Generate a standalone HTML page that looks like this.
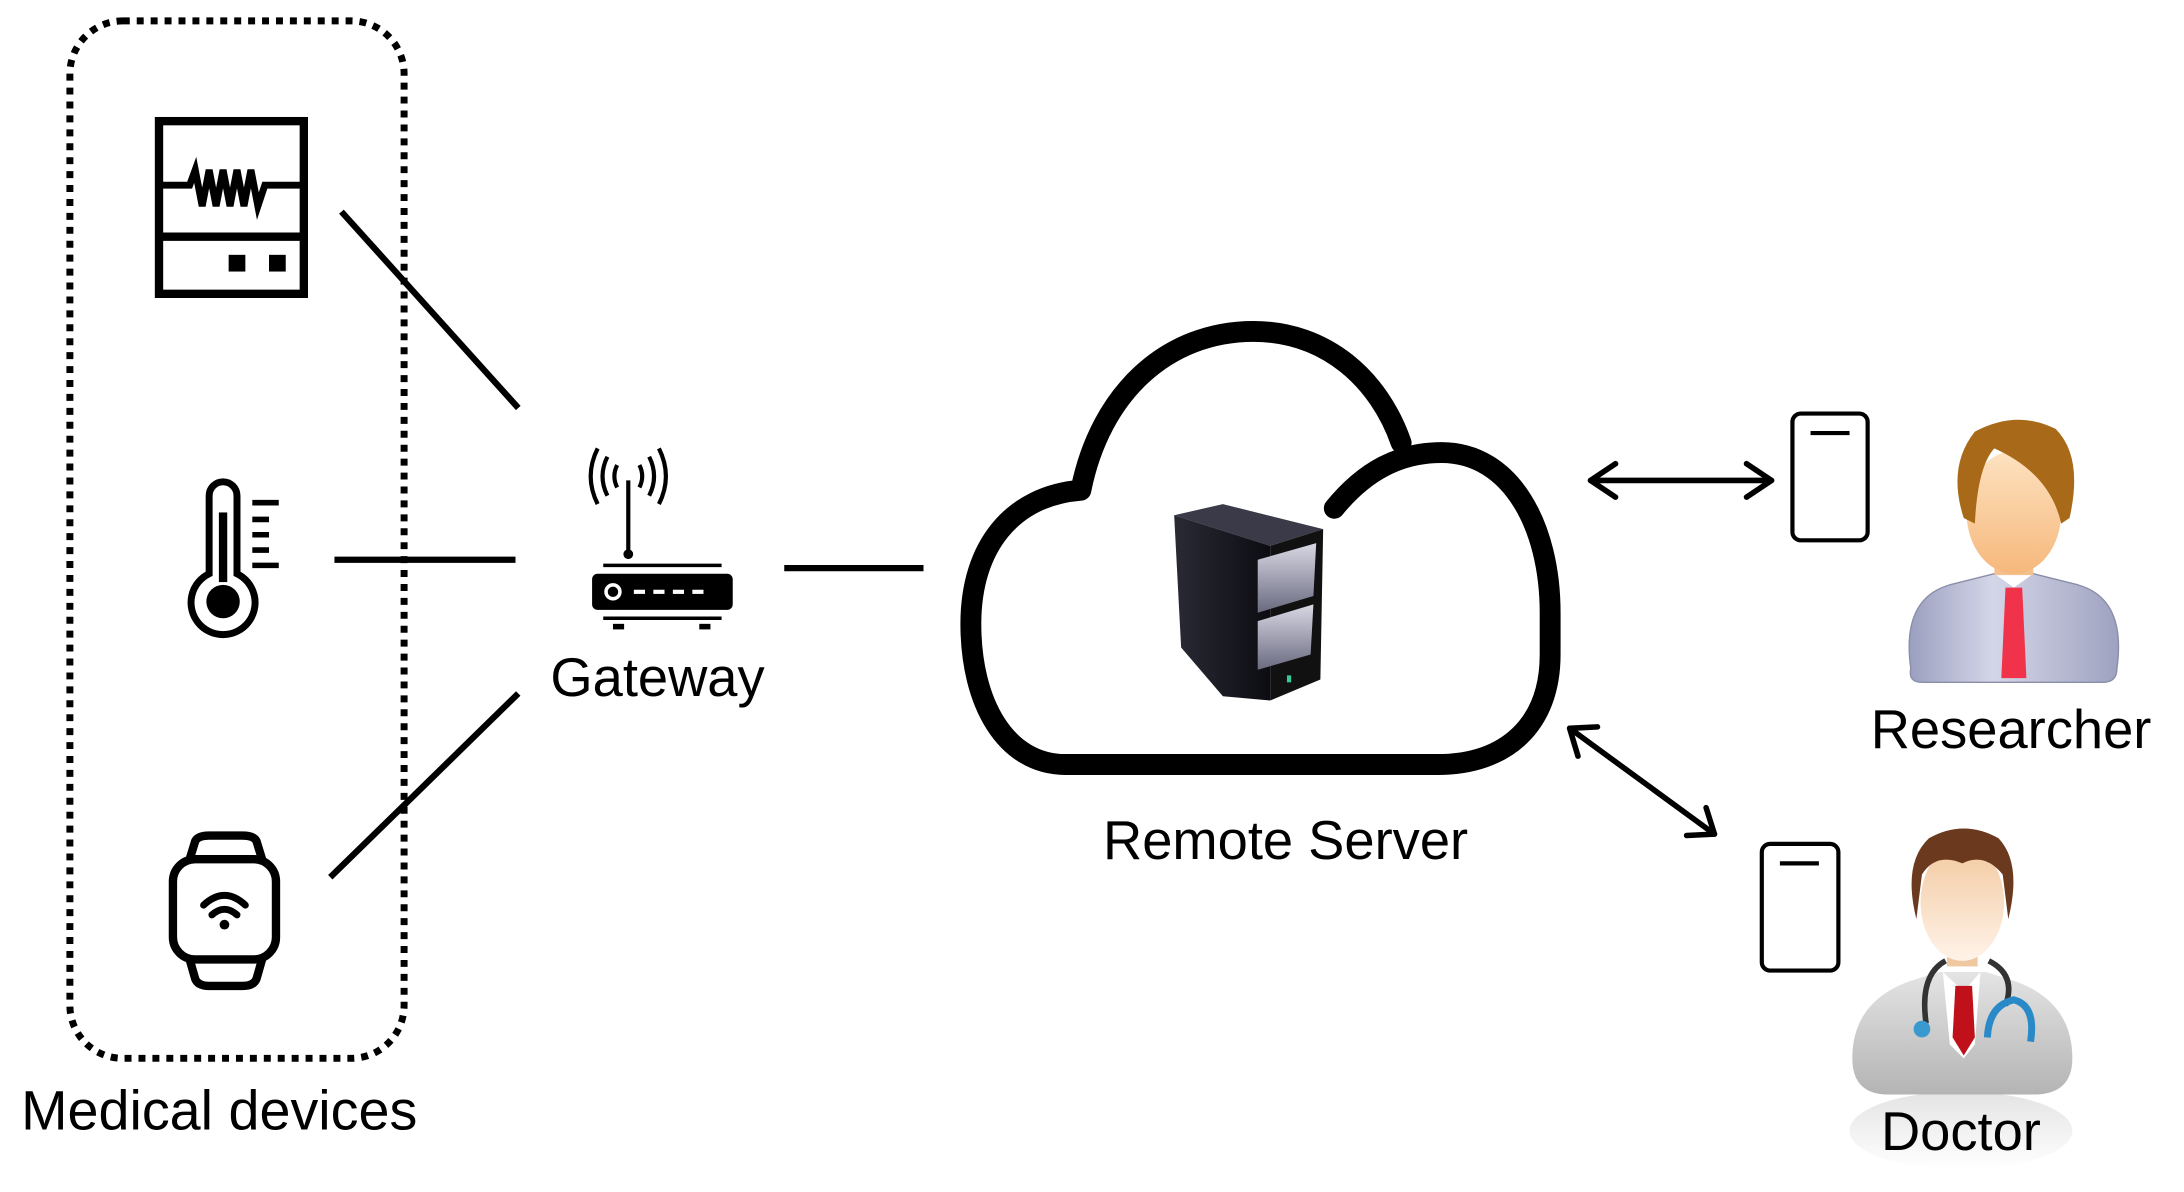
<!DOCTYPE html>
<html><head><meta charset="utf-8"><style>
html,body{margin:0;padding:0;background:#fff;}
svg{display:block;}
text{font-family:"Liberation Sans",Arial,sans-serif;fill:#000;}
</style></head><body>
<svg width="2184" height="1192" viewBox="0 0 1568 856" xmlns="http://www.w3.org/2000/svg">
<defs>
<linearGradient id="srv" x1="0" y1="0" x2="1" y2="0"><stop offset="0" stop-color="#2a2a35"/><stop offset="1" stop-color="#0c0c12"/></linearGradient>
<linearGradient id="srvf" x1="0" y1="0" x2="0" y2="1"><stop offset="0" stop-color="#d8d8e4"/><stop offset="1" stop-color="#6a6a80"/></linearGradient>
<linearGradient id="suit" x1="0" y1="0" x2="1" y2="0"><stop offset="0" stop-color="#9a9fbf"/><stop offset="0.4" stop-color="#d4d6e8"/><stop offset="1" stop-color="#9ea2c0"/></linearGradient>
<linearGradient id="coat" x1="0" y1="0" x2="0" y2="1"><stop offset="0" stop-color="#e4e4e4"/><stop offset="1" stop-color="#b4b4b4"/></linearGradient>
<linearGradient id="face" x1="0" y1="0" x2="0" y2="1"><stop offset="0" stop-color="#fde2c0"/><stop offset="1" stop-color="#f6b87c"/></linearGradient>
<linearGradient id="face2" x1="0" y1="0" x2="0" y2="1"><stop offset="0" stop-color="#f2c9a0"/><stop offset="1" stop-color="#fff3e8"/></linearGradient>
<linearGradient id="refl" x1="0" y1="0" x2="0" y2="1"><stop offset="0" stop-color="#d8d8d8"/><stop offset="1" stop-color="#ffffff"/></linearGradient>
</defs>

<rect x="50" y="15" width="240" height="745" rx="38" fill="none" stroke="#000" stroke-width="5" stroke-dasharray="5 5"/>
<text x="15" y="811" font-size="40">Medical devices</text>

<rect x="114" y="87" width="104" height="124" fill="none" stroke="#000" stroke-width="6"/>
<line x1="114" y1="170" x2="218" y2="170" stroke="#000" stroke-width="6"/>
<polyline points="114,133 136,133 140,122 145,148 150,122 155,148 160,122 165,148 170,122 175,148 180,122 185,148 190,133 218,133" fill="none" stroke="#000" stroke-width="5"/>
<rect x="164" y="183" width="12" height="12"/><rect x="193" y="183" width="12" height="12"/>

<path d="M150 412 V356 a10 10 0 0 1 20 0 V412 a23 23 0 1 1 -20 0 Z" fill="none" stroke="#000" stroke-width="5"/>
<rect x="157" y="368" width="6" height="50"/>
<circle cx="160" cy="432" r="12"/>
<g stroke="#000" stroke-width="4"><line x1="181" y1="361" x2="200" y2="361"/><line x1="181" y1="373" x2="193" y2="373"/><line x1="181" y1="384" x2="193" y2="384"/><line x1="181" y1="395" x2="193" y2="395"/><line x1="181" y1="406" x2="200" y2="406"/></g>

<rect x="124" y="617" width="74" height="72" rx="16" fill="none" stroke="#000" stroke-width="6"/>
<path d="M136 617 L140 604 Q142 600 150 600 H174 Q182 600 184 604 L188 617" fill="none" stroke="#000" stroke-width="6"/>
<path d="M136 689 L140 703 Q142 708 150 708 H174 Q182 708 184 703 L188 689" fill="none" stroke="#000" stroke-width="6"/>
<path d="M146 650 Q161 636 176 650" fill="none" stroke="#000" stroke-width="5" stroke-linecap="round"/>
<path d="M152 657 Q161 649 170 657" fill="none" stroke="#000" stroke-width="5" stroke-linecap="round"/>
<circle cx="161" cy="664" r="3.5"/>

<g stroke="#000" stroke-width="4.5">
<line x1="245" y1="152" x2="372" y2="293"/>
<line x1="240" y1="402" x2="370" y2="402"/>
<line x1="372" y1="498" x2="237" y2="630"/>
<line x1="563" y1="408" x2="663" y2="408"/>
</g>

<line x1="451" y1="345" x2="451" y2="398" stroke="#000" stroke-width="3"/>
<circle cx="451" cy="398" r="3.5"/>
<g fill="none" stroke="#000" stroke-width="3">
<path d="M443 334 Q439 342 443 350"/><path d="M436 328 Q429 342 436 356"/><path d="M429 322 Q419 342 429 362"/>
<path d="M459 334 Q463 342 459 350"/><path d="M466 328 Q473 342 466 356"/><path d="M473 322 Q483 342 473 362"/>
</g>
<line x1="433" y1="406" x2="518" y2="406" stroke="#000" stroke-width="2.5"/>
<rect x="425" y="412" width="101" height="26" rx="4"/>
<circle cx="440" cy="425" r="5" fill="none" stroke="#fff" stroke-width="2.5"/>
<g stroke="#fff" stroke-width="3"><line x1="455" y1="425" x2="463" y2="425"/><line x1="469" y1="425" x2="477" y2="425"/><line x1="483" y1="425" x2="491" y2="425"/><line x1="497" y1="425" x2="505" y2="425"/></g>
<line x1="433" y1="444" x2="518" y2="444" stroke="#000" stroke-width="2.5"/>
<rect x="440" y="448" width="8" height="4"/><rect x="502" y="448" width="8" height="4"/>
<text x="472" y="500" font-size="39" text-anchor="middle">Gateway</text>

<path d="M958 365 C980 338 1005 325 1035 325 C1085 325 1113 378 1113 440 L1113 470 C1113 520 1082 549 1032 549 L765 549 C722 549 697 505 697 448 C697 392 727 356 776 352 C790 282 838 238 900 238 C952 238 990 272 1006 318" fill="none" stroke="#000" stroke-width="15" stroke-linecap="round" stroke-linejoin="round"/>
<path d="M843 370 L878 362 L950 380 L912 392 Z" fill="#3a3a48"/>
<path d="M843 370 L912 392 L912 503 L878 500 L848 465 Z" fill="url(#srv)"/>
<path d="M912 392 L950 380 L948 488 L912 503 Z" fill="#111"/>
<path d="M903 402 L945 390 L943 428 L903 440 Z" fill="url(#srvf)"/>
<path d="M903 446 L943 434 L941 470 L903 481 Z" fill="url(#srvf)"/>
<rect x="924" y="485" width="3" height="5" fill="#3c9"/>
<text x="923" y="617" font-size="39" text-anchor="middle">Remote Server</text>

<g stroke="#000" stroke-width="4" fill="none" stroke-linecap="round" stroke-linejoin="round">
<line x1="1142" y1="345" x2="1272" y2="345"/>
<polyline points="1160,333 1142,345 1160,357"/>
<polyline points="1254,333 1272,345 1254,357"/>
<line x1="1127" y1="523" x2="1231" y2="599"/>
<polyline points="1133,543 1127,523 1147,522"/>
<polyline points="1211,600 1231,599 1225,580"/>
</g>

<rect x="1287" y="297" width="54" height="91" rx="6" fill="none" stroke="#000" stroke-width="3"/>
<line x1="1300" y1="311" x2="1328" y2="311" stroke="#000" stroke-width="3"/>
<rect x="1265" y="606" width="55" height="91" rx="6" fill="none" stroke="#000" stroke-width="3"/>
<line x1="1278" y1="620" x2="1306" y2="620" stroke="#000" stroke-width="3"/>

<path d="M1372 480 Q1365 430 1400 420 L1432 412 H1460 L1492 420 Q1527 430 1520 480 Q1520 490 1510 490 H1380 Q1370 490 1372 480 Z" fill="url(#suit)" stroke="#8a8ea8" stroke-width="1"/>
<path d="M1432 412 L1446 422 L1460 412 Z" fill="#fff"/>
<path d="M1440 422 H1452 L1455 487 H1437 Z" fill="#f0334a"/>
<rect x="1432" y="395" width="28" height="18" fill="#f4c090"/>
<ellipse cx="1446" cy="368" rx="34" ry="44" fill="url(#face)"/>
<path d="M1410 372 Q1398 335 1418 310 Q1448 294 1476 308 Q1496 328 1486 372 L1480 376 Q1472 340 1432 322 Q1420 335 1418 376 Z" fill="#a86a18"/>

<ellipse cx="1408" cy="812" rx="80" ry="28" fill="url(#refl)" opacity="0.7"/>
<path d="M1330 760 Q1330 720 1370 705 L1392 698 H1426 L1448 705 Q1488 720 1488 760 Q1488 786 1460 786 H1356 Q1330 786 1330 760 Z" fill="url(#coat)"/>
<path d="M1395 698 L1410 712 L1422 698 L1418 750 L1410 760 L1400 750 Z" fill="#fff"/>
<path d="M1404 708 H1416 L1418 745 L1410 758 L1402 745 Z" fill="#c0101a"/>
<path d="M1383 735 Q1378 700 1397 690" fill="none" stroke="#333" stroke-width="4"/>
<path d="M1428 690 Q1448 700 1440 722" fill="none" stroke="#333" stroke-width="4"/>
<circle cx="1380" cy="739" r="6" fill="#3a9ad0"/>
<path d="M1427 745 Q1428 722 1446 718 Q1462 722 1458 748" fill="none" stroke="#2a8ac8" stroke-width="5"/>
<rect x="1398" y="672" width="22" height="22" fill="#f0c8a0"/>
<ellipse cx="1409" cy="648" rx="30" ry="42" fill="url(#face2)"/>
<path d="M1376 660 Q1366 620 1385 602 Q1410 588 1435 602 Q1452 620 1442 660 L1438 628 Q1425 612 1409 620 Q1390 612 1380 628 Z" fill="#6b3a1e"/>
<text x="1408" y="826" font-size="39" text-anchor="middle">Doctor</text>
<text x="1444" y="537" font-size="39" text-anchor="middle">Researcher</text>
</svg>
</body></html>
